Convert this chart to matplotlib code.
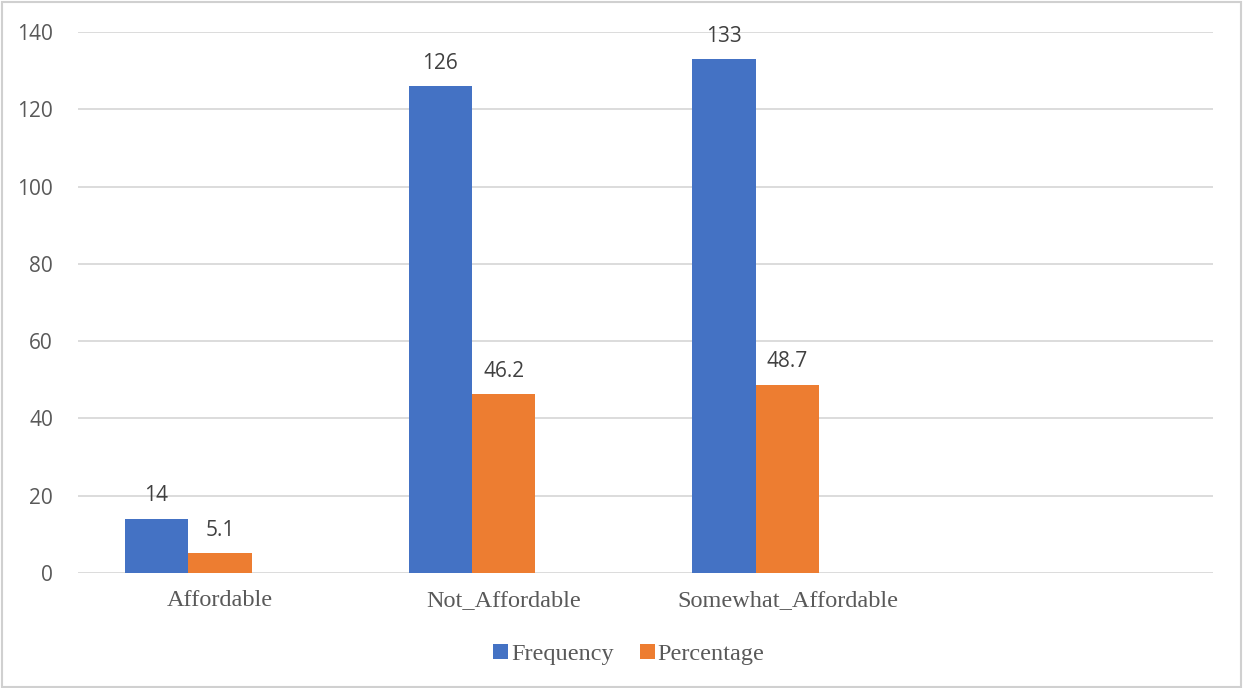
import numpy as np
import matplotlib.pyplot as plt
from matplotlib.patches import Rectangle

# categories (last slot is an empty category) and the two series
categorias = ['Affordable', 'Not_Affordable', 'Somewhat_Affordable', '']
frecuencia = [14, 126, 133]
porcentaje = [5.1, 46.2, 48.7]

azul = '#4472C4'
naranja = '#ED7D31'
gris = '#D9D9D9'

fig = plt.figure(figsize=(12.43, 6.88), dpi=100)
fig.patches.append(Rectangle((0.002, 0.002), 0.996, 0.995, transform=fig.transFigure,
                             fill=False, edgecolor='#D0D0D0', lw=1.5))

ax = fig.add_axes([0.0628, 0.1672, 0.9131, 0.7863])

ancho = 0.2236
x = np.arange(len(frecuencia))

b1 = ax.bar(x - ancho, frecuencia, ancho, color=azul, label='Frequency', zorder=3)
b2 = ax.bar(x, porcentaje, ancho, color=naranja, label='Percentage', zorder=3)

for barras in (b1, b2):
    for b in barras:
        v = b.get_height()
        ax.annotate('%g' % v, (b.get_x() + b.get_width() / 2, v),
                    xytext=(0, 16.5), textcoords='offset points', ha='center', va='center',
                    fontsize=15, color='#404040', family='Open Sans')

ax.set_xlim(-0.5, 3.5)
ax.set_ylim(0, 140)
ax.set_yticks(range(0, 141, 20))
ax.set_xticks(range(len(categorias)))
ax.set_xticklabels(categorias, family='Liberation Serif', fontsize=17.5, color='#595959')
for t in ax.get_yticklabels():
    t.set_family('Open Sans')
ax.tick_params(axis='y', labelsize=15, labelcolor='#595959', length=0, pad=18)
ax.tick_params(axis='x', length=0, pad=12)

ax.grid(axis='y', color=gris, lw=1.3, zorder=0)
for s in ax.spines.values():
    s.set_visible(False)

leg = fig.legend(handles=[b1, b2], loc='center', bbox_to_anchor=(0.506, 0.049), ncol=2,
                 frameon=False, prop={'family': 'Liberation Serif', 'size': 17.5},
                 handlelength=0.6, handleheight=0.6, handletextpad=0.12, columnspacing=1.1)
for t in leg.get_texts():
    t.set_color('#595959')

fig.savefig('out.png', dpi=100)
